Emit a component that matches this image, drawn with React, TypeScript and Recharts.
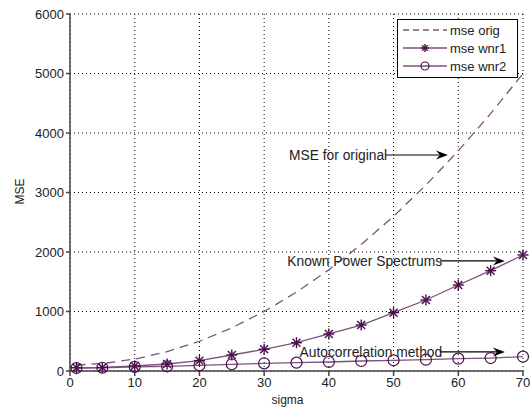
import React from 'react';
import {
  LineChart,
  Line,
  XAxis,
  YAxis,
  CartesianGrid,
  ReferenceLine,
} from 'recharts';

const sigma = [1, 5, 10, 15, 20, 25, 30, 35, 40, 45, 50, 55, 60, 65, 70];
const mseOrig = [101, 125, 200, 325, 500, 725, 1000, 1325, 1700, 2125, 2600, 3125, 3700, 4325, 5000];
const mseWnr1 = [55, 60, 84, 118, 174, 269, 365, 476, 622, 773, 980, 1193, 1445, 1686, 1950];
const mseWnr2 = [50, 55, 70, 79, 96, 113, 129, 140, 151, 168, 180, 190, 207, 218, 241];
const xTicks = [0, 10, 20, 30, 40, 50, 60, 70];
const yTicks = [0, 1000, 2000, 3000, 4000, 5000, 6000];

const data = sigma.map((s, i) => ({
  sigma: s,
  orig: mseOrig[i],
  wnr1: mseWnr1[i],
  wnr2: mseWnr2[i],
}));

const FONT = 'Liberation Sans, Arial, sans-serif';
const LINE = '#7d527d';
const MARK = '#4a0f4a';

const StarDot = (props: any) => {
  const { cx, cy, size } = props;
  if (cx == null || cy == null) return null;
  const r = size || 5.5;
  const d = r * 0.72;
  return (
    <g stroke={MARK} strokeWidth={1.4}>
      <line x1={cx - r} y1={cy} x2={cx + r} y2={cy} />
      <line x1={cx} y1={cy - r} x2={cx} y2={cy + r} />
      <line x1={cx - d} y1={cy - d} x2={cx + d} y2={cy + d} />
      <line x1={cx - d} y1={cy + d} x2={cx + d} y2={cy - d} />
    </g>
  );
};

const CircleDot = (props: any) => {
  const { cx, cy, size } = props;
  if (cx == null || cy == null) return null;
  return <circle cx={cx} cy={cy} r={size || 5.5} fill="none" stroke={MARK} strokeWidth={1.2} />;
};

const arrowShape = (text: string) => (props: any) => {
  const { x1, y1, x2, y2 } = props;
  if (x1 == null) return null;
  return (
    <g>
      <line x1={x1} y1={y1} x2={x2 - 8} y2={y2} stroke="#000" strokeWidth={1.2} />
      <polygon points={`${x2},${y2} ${x2 - 12},${y2 - 4.5} ${x2 - 8},${y2} ${x2 - 12},${y2 + 4.5}`} fill="#000" />
      <text x={x1 + 2} y={y1 + 5} textAnchor="end" fontSize={13.8} fontFamily={FONT} fill="#222">
        {text}
      </text>
    </g>
  );
};

// the inward ticks on the top and right edges of the box
const InTicks = (props: any) => {
  const { x, y, orientation } = props;
  if (orientation === 'top') {
    return <line x1={x} y1={y} x2={x} y2={y + 5} stroke="#444" strokeWidth={1.2} />;
  }
  return <line x1={x} y1={y} x2={x - 5} y2={y} stroke="#444" strokeWidth={1.2} />;
};

const legendRows = [
  { name: 'mse orig', dash: '6 4', mark: '' },
  { name: 'mse wnr1', dash: undefined, mark: 'star' },
  { name: 'mse wnr2', dash: undefined, mark: 'circle' },
];

const LegendBox = () => (
  <svg width={121} height={59} style={{ display: 'block' }}>
    <rect x={0.5} y={0.5} width={120} height={58} fill="#fff" stroke="#000" strokeWidth={1} />
    {legendRows.map((r, i) => {
      const y = 11 + i * 18;
      return (
        <g key={r.name}>
          <line x1={6} y1={y} x2={50} y2={y} stroke={LINE} strokeWidth={1.3} strokeDasharray={r.dash} />
          {r.mark === 'star' && <StarDot cx={28} cy={y} size={4} />}
          {r.mark === 'circle' && <CircleDot cx={28} cy={y} size={4} />}
          <text x={53} y={y + 4.5} fontSize={13} fontFamily={FONT} fill="#222">
            {r.name}
          </text>
        </g>
      );
    })}
  </svg>
);

export default function App() {
  return (
    <div style={{ position: 'absolute', left: 0, top: 0, width: 531, height: 409, background: '#fff' }}>
      <LineChart
        width={531}
        height={409}
        data={data}
        margin={{ top: 14, right: 8, left: 0, bottom: 0 }}
      >
        <CartesianGrid stroke="#000" strokeDasharray="1 3" strokeWidth={1} fill="none" />
        <XAxis
          dataKey="sigma"
          type="number"
          domain={[0, 70]}
          ticks={xTicks}
          height={38}
          stroke="#444"
          strokeWidth={1.5}
          tickSize={5}
          tick={{ fontSize: 13, fontFamily: FONT, fill: '#222' }}
          label={{ value: 'sigma', position: 'insideBottom', offset: 5, dx: -9, fontSize: 12, fontFamily: FONT, fill: '#222' }}
        />
        <XAxis
          xAxisId="top"
          dataKey="sigma"
          type="number"
          orientation="top"
          domain={[0, 70]}
          ticks={xTicks}
          height={0}
          stroke="#444"
          strokeWidth={1.5}
          tickLine={false}
          tick={<InTicks orientation="top" />}
        />
        <YAxis
          type="number"
          domain={[0, 6000]}
          ticks={yTicks}
          width={70}
          stroke="#444"
          strokeWidth={1.5}
          tickSize={4}
          tick={{ fontSize: 13, fontFamily: FONT, fill: '#222' }}
          label={{ value: 'MSE', angle: -90, position: 'insideLeft', offset: 20, dy: 12, fontSize: 12, fontFamily: FONT, fill: '#222' }}
        />
        <YAxis
          yAxisId="right"
          orientation="right"
          type="number"
          domain={[0, 6000]}
          ticks={yTicks}
          width={0}
          stroke="#444"
          strokeWidth={1.5}
          tickLine={false}
          tick={<InTicks orientation="right" />}
        />
        <Line
          dataKey="orig"
          name="mse orig"
          stroke={LINE}
          strokeWidth={1.3}
          strokeDasharray="9 6"
          dot={false}
          isAnimationActive={false}
        />
        <Line
          dataKey="wnr1"
          name="mse wnr1"
          stroke={LINE}
          strokeWidth={1.3}
          dot={<StarDot />}
          isAnimationActive={false}
        />
        <Line
          dataKey="wnr2"
          name="mse wnr2"
          stroke={LINE}
          strokeWidth={1.3}
          dot={<CircleDot />}
          isAnimationActive={false}
        />
        <ReferenceLine
          segment={[{ x: 48.7, y: 3630 }, { x: 58.4, y: 3630 }]}
          shape={arrowShape('MSE for original')}
        />
        <ReferenceLine
          segment={[{ x: 57.2, y: 1850 }, { x: 67.2, y: 1850 }]}
          shape={arrowShape('Known Power Spectrums')}
        />
        <ReferenceLine
          segment={[{ x: 57.2, y: 320 }, { x: 67.2, y: 320 }]}
          shape={arrowShape('Autocorrelation method')}
        />
      </LineChart>
      <div style={{ position: 'absolute', top: 19, left: 397 }}>
        <LegendBox />
      </div>
    </div>
  );
}
